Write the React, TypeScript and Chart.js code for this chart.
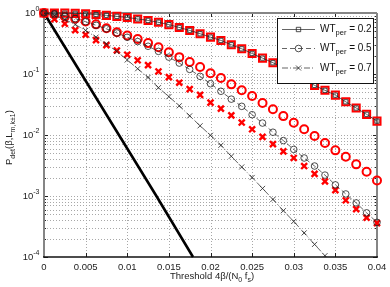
import React, { useEffect, useRef } from 'react';
import { Chart, registerables } from 'chart.js';

Chart.register(...registerables);

// ---------------- data ----------------
const thresholds = [
  0, 0.00125, 0.0025, 0.00375, 0.005, 0.00625, 0.0075, 0.00875, 0.01, 0.01125,
  0.0125, 0.01375, 0.015, 0.01625, 0.0175, 0.01875, 0.02, 0.02125, 0.0225, 0.02375,
  0.025, 0.02625, 0.0275, 0.02875, 0.03, 0.03125, 0.0325, 0.03375, 0.035, 0.03625,
  0.0375, 0.03875, 0.04,
];

// WT_per = 0.2 (theory line + simulated red squares)
const theoryWt02 = [
  1.0, 1.0, 0.995, 0.985, 0.97, 0.945, 0.915, 0.88, 0.845, 0.8, 0.755, 0.705, 0.645,
  0.579, 0.517, 0.457, 0.402, 0.355, 0.302, 0.259, 0.217, 0.182, 0.153, 0.126, 0.102,
  0.082, 0.065, 0.054, 0.045, 0.035, 0.0277, 0.0218, 0.0169,
];
const simWt02 = [
  1.0, 1.0, 0.995, 0.985, 0.97, 0.945, 0.915, 0.88, 0.845, 0.8, 0.755, 0.705, 0.645,
  0.579, 0.517, 0.457, 0.402, 0.355, 0.302, 0.259, 0.217, 0.182, 0.153, 0.126, 0.102,
  0.082, 0.065, 0.054, 0.045, 0.035, 0.0277, 0.0218, 0.0169,
];

// WT_per = 0.5
const theoryWt05 = [
  1.0, 0.96, 0.89, 0.81, 0.72, 0.63, 0.55, 0.47, 0.4, 0.34, 0.285, 0.235, 0.189, 0.151,
  0.119, 0.0915, 0.0693, 0.0521, 0.0387, 0.0295, 0.0215, 0.0157, 0.0111, 0.0081,
  0.0058, 0.0042, 0.0031, 0.0022, 0.00152, 0.00108, 0.00077, 0.00053, 0.00037,
];
const simWt05 = [
  1.0, 0.945, 0.876, 0.804, 0.726, 0.651, 0.564, 0.485, 0.428, 0.375, 0.321, 0.275,
  0.228, 0.189, 0.157, 0.13, 0.103, 0.086, 0.0676, 0.054, 0.0436, 0.0335, 0.0265,
  0.0204, 0.0159, 0.0124, 0.0096, 0.0074, 0.0056, 0.0044, 0.0033, 0.0025, 0.0018,
];

// WT_per = 0.7
const theoryWt07 = [
  1.0, 0.91, 0.783, 0.648, 0.517, 0.402, 0.311, 0.234, 0.17, 0.122, 0.088, 0.0597,
  0.0425, 0.0301, 0.0206, 0.01415, 0.00989, 0.00678, 0.00448, 0.00299, 0.00201,
  0.00133, 0.00088, 0.000574, 0.000383, 0.000248, 0.000161, 0.000105, 0.0000684,
];
const simWt07 = [
  1.0, 0.79, 0.666, 0.523, 0.44, 0.359, 0.297, 0.243, 0.207, 0.168, 0.14, 0.11, 0.089,
  0.072, 0.0566, 0.0455, 0.0339, 0.0271, 0.021, 0.016, 0.0124, 0.0093, 0.0071, 0.0054,
  0.0042, 0.0031, 0.0023, 0.00174, 0.00125, 0.00085, 0.00061, 0.00044, 0.00036,
];

// ideal (thick black) curve
const idealThreshold = [0, 0.0045, 0.009, 0.0135, 0.0179];
const idealPdet = [1, 0.1, 0.01, 0.001, 0.0001];

const xTickValues = [0, 0.005, 0.01, 0.015, 0.02, 0.025, 0.03, 0.035, 0.04];
const xTickLabels = ['0', '0.005', '0.01', '0.015', '0.02', '0.025', '0.03', '0.035', '0.04'];
const yDecades = [1, 0.1, 0.01, 0.001, 0.0001];
const yTickExponents = ['0', '-1', '-2', '-3', '-4'];
const legendValues = ['0.2', '0.5', '0.7'];

// ---------------- helpers ----------------
const FONT = '"Liberation Sans", Arial, Helvetica, sans-serif';
const RED = '#ff0000';
const THEORY = '#222222';
const DASH = [5, 3];
const DASHDOT = [6, 2, 1, 2];

type Part = { t: string; sub?: boolean; sup?: boolean };

const pts = (xs: number[], ys: number[]) => ys.map((v, i) => ({ x: xs[i], y: v }));

function drawRich(ctx: CanvasRenderingContext2D, x: number, y: number, parts: Part[], size: number, small: number, shift: number) {
  let cx = x;
  for (const p of parts) {
    const fs = p.sub || p.sup ? small : size;
    ctx.font = `${fs}px ${FONT}`;
    const dy = p.sub ? shift : p.sup ? -shift : 0;
    ctx.fillText(p.t, cx, y + dy);
    cx += ctx.measureText(p.t).width;
  }
  return cx;
}

function line(ctx: CanvasRenderingContext2D, x1: number, y1: number, x2: number, y2: number) {
  ctx.beginPath();
  ctx.moveTo(x1, y1);
  ctx.lineTo(x2, y2);
  ctx.stroke();
}

const decorPlugin = {
  id: 'matlabDecor',
  beforeDatasetsDraw(chart: any) {
    const ctx: CanvasRenderingContext2D = chart.ctx;
    const a = chart.chartArea;
    const xs = chart.scales.x;
    const ys = chart.scales.y;
    ctx.save();
    // dotted grid
    ctx.strokeStyle = '#a8a8a8';
    ctx.lineWidth = 1;
    ctx.setLineDash([1, 2]);
    for (const v of xTickValues) {
      if (v <= xs.min || v >= xs.max) continue;
      const px = Math.round(xs.getPixelForValue(v)) + 0.5;
      line(ctx, px, a.top, px, a.bottom);
    }
    for (const dec of yDecades) {
      for (let m = 1; m <= 9; m++) {
        const v = dec * m;
        if (v <= ys.min * 1.0001 || v >= ys.max * 0.9999) continue;
        const py = Math.round(ys.getPixelForValue(v)) + 0.5;
        line(ctx, a.left, py, a.right, py);
      }
    }
    ctx.setLineDash([]);
    // ticks
    ctx.strokeStyle = '#222';
    ctx.lineWidth = 1;
    for (const v of xTickValues) {
      const px = Math.round(xs.getPixelForValue(v)) + 0.5;
      line(ctx, px, a.bottom, px, a.bottom - 4);
      line(ctx, px, a.top, px, a.top + 4);
    }
    for (const dec of yDecades) {
      for (let m = 1; m <= 9; m++) {
        const v = dec * m;
        if (v < ys.min * 0.9999 || v > ys.max * 1.0001) continue;
        const py = Math.round(ys.getPixelForValue(v)) + 0.5;
        const len = m === 1 ? 4 : 2;
        line(ctx, a.left, py, a.left + len, py);
        line(ctx, a.right, py, a.right - len, py);
      }
    }
    // box
    ctx.strokeStyle = '#858585';
    ctx.lineWidth = 2;
    line(ctx, a.left, a.bottom, a.left, a.top);
    line(ctx, a.left, a.top, a.right, a.top);
    line(ctx, a.right, a.top, a.right, a.bottom);
    ctx.strokeStyle = '#111';
    ctx.lineWidth = 1.5;
    line(ctx, a.left - 1, a.bottom, a.right + 1, a.bottom);
    ctx.restore();
  },
  afterDraw(chart: any) {
    const ctx: CanvasRenderingContext2D = chart.ctx;
    const a = chart.chartArea;
    const xs = chart.scales.x;
    const ys = chart.scales.y;
    ctx.save();
    ctx.fillStyle = '#222';
    // x tick labels
    ctx.font = `9.5px ${FONT}`;
    ctx.textAlign = 'center';
    ctx.textBaseline = 'middle';
    xTickValues.forEach((v, i) => {
      ctx.fillText(xTickLabels[i], xs.getPixelForValue(v), a.bottom + 10);
    });
    // y tick labels (10^n)
    ctx.textAlign = 'left';
    yDecades.forEach((v, i) => {
      const py = ys.getPixelForValue(v);
      const exp = yTickExponents[i];
      ctx.font = `7px ${FONT}`;
      const we = ctx.measureText(exp).width;
      ctx.font = `9.5px ${FONT}`;
      const w10 = ctx.measureText('10').width;
      const right = 39.5;
      ctx.fillText('10', right - we - w10, py + 0.5);
      ctx.font = `7px ${FONT}`;
      ctx.fillText(exp, right - we, py - 4);
    });
    // x title
    ctx.textBaseline = 'alphabetic';
    drawRich(ctx, 170, 278.5, [
      { t: 'Threshold 4β/(N' }, { t: '0', sub: true }, { t: ' f' }, { t: 's', sub: true }, { t: ')' },
    ], 9.5, 7, 3);
    // y title (rotated)
    ctx.save();
    ctx.translate(8.5, 165);
    ctx.rotate(-Math.PI / 2);
    drawRich(ctx, 0, 3.2, [
      { t: 'P' }, { t: 'det', sub: true }, { t: '(β,L' }, { t: 'm,k±1', sub: true }, { t: ')' },
    ], 9.5, 7, 3);
    ctx.restore();

    // legend
    const lx = 277.5, ly = 18.5, lw = 96, lh = 65;
    ctx.fillStyle = '#ffffff';
    ctx.fillRect(lx, ly, lw, lh);
    ctx.strokeStyle = '#111';
    ctx.lineWidth = 1;
    ctx.strokeRect(lx, ly, lw, lh);
    const rows = [29.5, 48.5, 68];
    const dashes = [[], DASH, DASHDOT];
    rows.forEach((ry, i) => {
      ctx.strokeStyle = THEORY;
      ctx.lineWidth = 0.7;
      ctx.setLineDash(dashes[i]);
      line(ctx, 282, ry, 315, ry);
      ctx.setLineDash([]);
      const mx = 298.5;
      ctx.lineWidth = 0.8;
      ctx.beginPath();
      if (i === 0) {
        ctx.rect(mx - 2.2, ry - 2.2, 4.4, 4.4);
      } else if (i === 1) {
        ctx.arc(mx, ry, 3.3, 0, Math.PI * 2);
      } else {
        ctx.moveTo(mx - 2.5, ry - 2.5); ctx.lineTo(mx + 2.5, ry + 2.5);
        ctx.moveTo(mx - 2.5, ry + 2.5); ctx.lineTo(mx + 2.5, ry - 2.5);
      }
      ctx.stroke();
      ctx.fillStyle = '#111';
      drawRich(ctx, 320, ry + 2.6, [
        { t: 'WT' }, { t: 'per', sub: true }, { t: ' = ' + legendValues[i] },
      ], 10, 7.5, 3.2);
    });
    ctx.restore();
  },
};

export default function App() {
  const canvasRef = useRef<HTMLCanvasElement | null>(null);

  useEffect(() => {
    const canvas = canvasRef.current;
    if (!canvas) return;
    const chart = new Chart(canvas, {
      type: 'line',
      data: {
        datasets: [
          {
            label: 'ideal',
            data: pts(idealThreshold, idealPdet),
            borderColor: '#000',
            borderWidth: 2.6,
            pointRadius: 0,
            clip: false,
            order: 7,
          },
          {
            label: 'theory 0.2',
            data: pts(thresholds, theoryWt02),
            borderColor: THEORY,
            borderWidth: 0.7,
            pointStyle: 'rect',
            pointRadius: 3,
            pointBorderWidth: 0.8,
            pointBorderColor: THEORY,
            pointBackgroundColor: 'rgba(0,0,0,0)',
            clip: false,
            order: 1,
          },
          {
            label: 'theory 0.5',
            data: pts(thresholds, theoryWt05),
            borderColor: THEORY,
            borderWidth: 0.7,
            borderDash: DASH,
            pointStyle: 'circle',
            pointRadius: 3.3,
            pointBorderWidth: 0.8,
            pointBorderColor: THEORY,
            pointBackgroundColor: 'rgba(0,0,0,0)',
            clip: false,
            order: 2,
          },
          {
            label: 'theory 0.7',
            data: pts(thresholds, theoryWt07),
            borderColor: THEORY,
            borderWidth: 0.7,
            borderDash: DASHDOT,
            pointStyle: 'crossRot',
            pointRadius: 3.6,
            pointBorderWidth: 0.8,
            pointBorderColor: THEORY,
            pointBackgroundColor: 'rgba(0,0,0,0)',
            order: 3,
          },
          {
            label: 'sim 0.2',
            data: pts(thresholds, simWt02),
            showLine: false,
            pointStyle: 'rect',
            pointRadius: 5,
            pointBorderWidth: 2,
            pointBorderColor: RED,
            pointBackgroundColor: 'rgba(0,0,0,0)',
            clip: false,
            order: 6,
          },
          {
            label: 'sim 0.5',
            data: pts(thresholds, simWt05),
            showLine: false,
            pointStyle: 'circle',
            pointRadius: 4,
            pointBorderWidth: 2,
            pointBorderColor: RED,
            pointBackgroundColor: 'rgba(0,0,0,0)',
            clip: false,
            order: 5,
          },
          {
            label: 'sim 0.7',
            data: pts(thresholds, simWt07),
            showLine: false,
            pointStyle: 'crossRot',
            pointRadius: 4.2,
            pointBorderWidth: 2.4,
            pointBorderColor: RED,
            pointBackgroundColor: 'rgba(0,0,0,0)',
            clip: false,
            order: 4,
          },
        ],
      },
      options: {
        responsive: false,
        animation: false,
        devicePixelRatio: 1,
        events: [],
        layout: { padding: { top: 13, right: 13, left: 0, bottom: 0 } },
        plugins: { legend: { display: false }, tooltip: { enabled: false } },
        scales: {
          x: {
            type: 'linear',
            min: 0,
            max: 0.04,
            ticks: { display: false },
            grid: { display: false },
            border: { display: false },
            afterFit: (s: any) => { s.height = 30; },
          },
          y: {
            type: 'logarithmic',
            min: 0.0001,
            max: 1,
            ticks: { display: false },
            grid: { display: false },
            border: { display: false },
            afterFit: (s: any) => { s.width = 44; },
          },
        },
      },
      plugins: [decorPlugin],
    } as any);
    return () => chart.destroy();
  }, []);

  return (
    <div style={{ position: 'absolute', left: 0, top: 0, width: 390, height: 287, background: '#fff' }}>
      <canvas ref={canvasRef} width={390} height={287} style={{ display: 'block', width: 390, height: 287 }} />
    </div>
  );
}
